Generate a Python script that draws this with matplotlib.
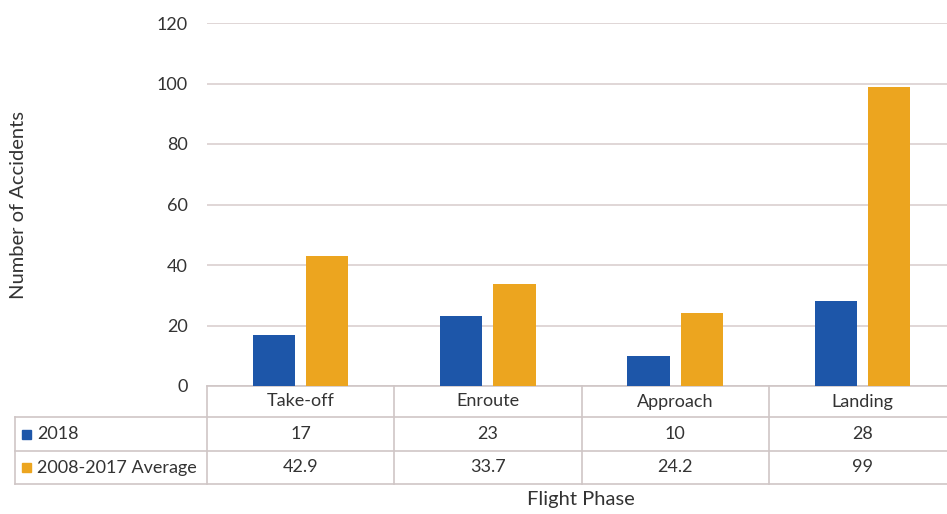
import numpy as np
import matplotlib.pyplot as plt
import matplotlib.transforms as mtransforms
from matplotlib.patches import Rectangle

plt.rcParams['font.family'] = ['Lato', 'DejaVu Sans']

phases = ["Take-off", "Enroute", "Approach", "Landing"]
acc_2018 = [17, 23, 10, 28]
acc_avg = [42.9, 33.7, 24.2, 99]
avg_labels = ["42.9", "33.7", "24.2", "99"]
series_names = ["2018", "2008-2017 Average"]
yticks = [0, 20, 40, 60, 80, 100, 120]

blue = "#1d56a9"
orange = "#eca51f"
grid_col = "#ddd3d3"
txt_col = "#333333"
fs = 13

W, H = 947, 514
fig = plt.figure(figsize=(W / 100, H / 100), dpi=100)
# plot area in pixels: x 207..956, y 23..386 (table runs off right edge)
ax = fig.add_axes([207 / W, 1 - 386 / H, (956 - 207) / W, (386 - 23) / H])

x = np.arange(len(phases))
bw = 0.225
off = 0.142
ax.bar(x - off, acc_2018, bw, color=blue, zorder=3)
ax.bar(x + off, acc_avg, bw, color=orange, zorder=3)

ax.set_xlim(-0.5, len(phases) - 0.5)
ax.set_ylim(0, 120)
ax.set_yticks(yticks)
ax.tick_params(axis='y', length=0, pad=14, labelsize=fs, labelcolor=txt_col)
ax.set_xticks([])
ax.yaxis.grid(True, color=grid_col, lw=1.3, zorder=0)
for s in ax.spines.values():
    s.set_visible(False)

# data table under the axis
trans = mtransforms.blended_transform_factory(ax.transData, fig.transFigure)
def fy(py):
    return 1 - py / H
x_left = ax.transData.inverted().transform(fig.transFigure.transform((15 / W, 0)))[0]
rows = [386, 417, 451, 484]
lc = "#cfc6c6"
# horizontal rules
ax.plot([-0.5, 4.5], [fy(386)] * 2, transform=trans, color=lc, lw=1.2, clip_on=False)
for r in rows[1:]:
    ax.plot([x_left, 4.5], [fy(r)] * 2, transform=trans, color=lc, lw=1.2, clip_on=False)
# vertical rules
ax.plot([x_left] * 2, [fy(417), fy(484)], transform=trans, color=lc, lw=1.2, clip_on=False)
for b in np.arange(len(phases)) - 0.5:
    ax.plot([b] * 2, [fy(386), fy(484)], transform=trans, color=lc, lw=1.2, clip_on=False)

def row_mid(i):
    return fy((rows[i] + rows[i + 1]) / 2)

for i, p in enumerate(phases):
    ax.text(i, row_mid(0), p, transform=trans, ha='center', va='center',
            fontsize=fs, color=txt_col)
    ax.text(i, row_mid(1), str(acc_2018[i]), transform=trans, ha='center',
            va='center', fontsize=fs, color=txt_col)
    ax.text(i, row_mid(2), avg_labels[i], transform=trans, ha='center',
            va='center', fontsize=fs, color=txt_col)

for j, (name, col) in enumerate(zip(series_names, [blue, orange])):
    yc = (rows[j + 1] + rows[j + 2]) / 2
    fig.add_artist(Rectangle((22 / W, fy(yc + 4.5)), 9 / W, 9 / H,
                             transform=fig.transFigure, color=col))
    fig.text(37 / W, fy(yc), name, ha='left', va='center', fontsize=fs,
             color=txt_col)

fig.text(581 / W, fy(500), "Flight Phase", ha='center', va='center',
         fontsize=14.5, color=txt_col)
fig.text(19 / W, fy(205), "Number of Accidents", ha='center', va='center',
         rotation=90, fontsize=14.5, color=txt_col)

fig.savefig("out.png", dpi=100)
